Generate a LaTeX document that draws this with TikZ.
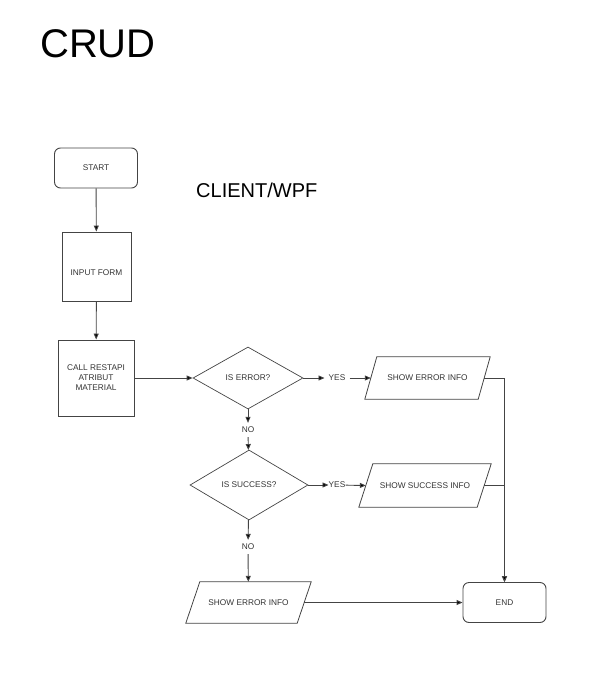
\documentclass[tikz,border=0pt]{standalone}
\usepackage{fontspec}
\setmainfont{Liberation Sans}
\usetikzlibrary{shapes.geometric,calc,arrows.meta}
\definecolor{linec}{HTML}{444444}
\definecolor{txtc}{HTML}{333333}
\begin{document}
\begin{tikzpicture}[x=1pt,y=-1pt,
  every node/.style={font=\fontsize{8.3}{10}\selectfont, text=txtc},
  term/.style={draw=linec, line width=0.9pt, rounded corners=6pt, minimum width=83pt, minimum height=40pt, inner sep=0pt},
  proc/.style={draw=linec, line width=0.9pt, inner sep=0pt, align=center},
  decide/.style={draw=linec, line width=0.7pt, shape=diamond, inner sep=0pt},
  iobox/.style={inner sep=0pt},
  lbl/.style={inner sep=4pt},
  conn/.style={draw=linec, line width=0.9pt, -{Triangle[length=6pt,width=5pt,fill=black]}},
  para/.style={draw=linec, line width=0.8pt}
]
\useasboundingbox (0,0) rectangle (606,685);

\node[anchor=base west, inner sep=0pt, text=black, font=\fontsize{40}{48}\selectfont] (title) at (40,58) {CRUD};
\node[anchor=base west, inner sep=0pt, text=black, font=\fontsize{20}{24}\selectfont] (client) at (196,197) {CLIENT/WPF};

\node[term] (start) at (96,168) {START};
\node[proc, minimum width=69pt, minimum height=69pt] (input) at (96.5,266.5) {\raisebox{-8.5pt}[0pt][0pt]{INPUT FORM}};
\node[proc, minimum width=76pt, minimum height=76pt] (call) at (96,378) {CALL RESTAPI\\ATRIBUT\\MATERIAL};

\node[decide, minimum width=110pt, minimum height=62pt] (d1) at (248,378) {IS ERROR?};
\node[decide, minimum width=118pt, minimum height=70pt] (d2) at (249,485) {IS SUCCESS?};

\node[lbl] (yes1) at (337,378) {YES};
\node[lbl] (no1) at (248,430) {NO};
\node[inner sep=0pt] (yes2) at (337,485) {YES};
\node[lbl] (no2) at (248,547) {NO};

% parallelograms
\node[iobox, minimum width=125pt, minimum height=42pt] (sei) at (427.5,378) {SHOW ERROR INFO};
\node[iobox, minimum width=132pt, minimum height=43pt] (ssi) at (425,485.5) {SHOW SUCCESS INFO};
\node[iobox, minimum width=125pt, minimum height=41pt] (sei2) at (248.5,602.5) {SHOW ERROR INFO};

\draw[para] ($(sei.north west)+(12,0)$) -- (sei.north east) -- ($(sei.south east)+(-12,0)$) -- (sei.south west) -- cycle;
\draw[para] ($(ssi.north west)+(14,0)$) -- (ssi.north east) -- ($(ssi.south east)+(-14,0)$) -- (ssi.south west) -- cycle;
\draw[para] ($(sei2.north west)+(14,0)$) -- (sei2.north east) -- ($(sei2.south east)+(-14,0)$) -- (sei2.south west) -- cycle;

\coordinate (sei-l) at ($(sei.west)+(6,0)$);
\coordinate (sei-r) at ($(sei.east)+(-6,0)$);
\coordinate (ssi-l) at ($(ssi.west)+(7,0)$);
\coordinate (ssi-r) at ($(ssi.east)+(-7,0)$);
\coordinate (sei2-r) at ($(sei2.east)+(-7,0)$);

\node[term] (end) at (504.5,602.5) {END};

% connectors
\draw[conn] (start) -- (input);
\draw[conn] (input) -- (call);
\draw[conn] (call) -- (d1);
\draw[conn] (d1) -- (yes1);
\draw[conn] (yes1) -- (sei-l);
\draw[conn] (d1) -- (no1);
\draw[conn] (no1) -- (d2);
\draw[conn] (d2) -- (yes2);
\draw[conn] (yes2) -- (ssi-l);
\draw[conn] (d2) -- (no2);
\draw[conn] (no2) -- (sei2);
\draw[conn] (sei-r) -| (end.north);
\draw[conn] (ssi-r) -| (end.north);
\draw[conn] (sei2-r) -- (end);
\end{tikzpicture}
\end{document}
